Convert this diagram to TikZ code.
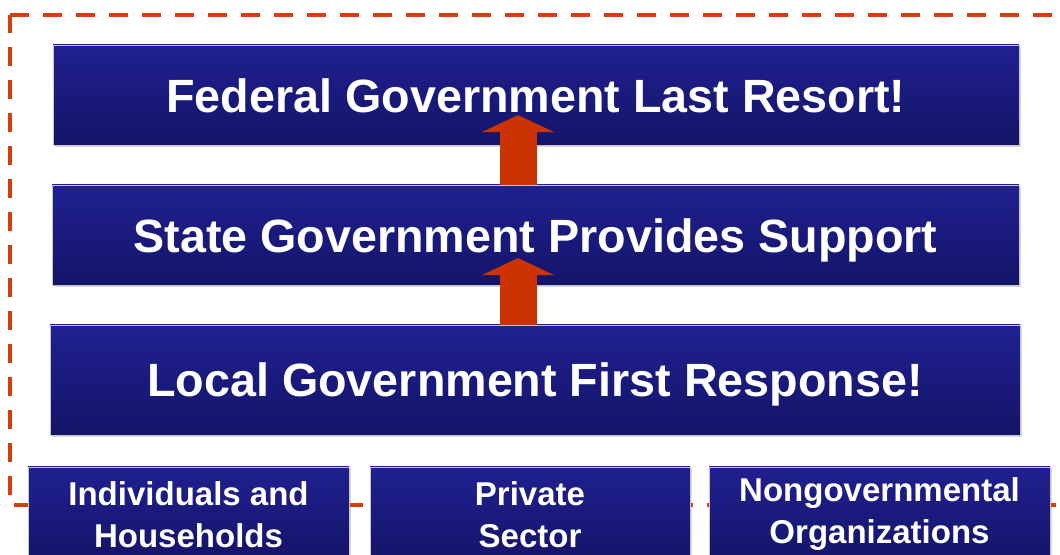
\documentclass[tikz,border=0pt]{standalone}
\usepackage{fontspec}
\setmainfont{Liberation Sans}
\usetikzlibrary{arrows.meta,shadows,calc}
\definecolor{tiertop}{RGB}{32,32,145}
\definecolor{tierbot}{RGB}{20,20,104}
\definecolor{arrowred}{RGB}{204,51,0}
\definecolor{dashred}{RGB}{214,62,12}

\begin{document}
\begin{tikzpicture}
      [x=0.75pt,y=-0.75pt,
       tier/.style={inner sep=0pt,top color=tiertop,bottom color=tierbot,draw=gray!45,very thin,
         drop shadow={shadow xshift=1.5pt,shadow yshift=-1.5pt,opacity=0.3},
         text=white,text depth=0pt,font=\fontsize{35}{40}\selectfont\bfseries},
       group/.style={tier,align=center,text depth=,font=\fontsize{24.75}{31.5}\selectfont\bfseries},
       uparrow/.style={arrowred,line width=27.75pt,-{Triangle[width=54pt,length=12.75pt]}}]

  \clip (0,0) rectangle (1060,555);

%dashed frame round the tiers
  \draw[dashred,line width=3.4pt,dash pattern=on 14.25pt off 10.5pt]
     (10,15) -- (1080,15) -- (1080,505) -- (10,505) -- cycle;

%the three tiers
  \node[tier,minimum width=724.5pt,minimum height=75pt] (federal) at (536,95) {\raisebox{-1.5pt}{Federal Government Last Resort!}};
  \node[tier,minimum width=725.25pt,minimum height=75pt] (state) at (535.5,235) {\raisebox{-1.5pt}{State Government Provides Support}};
  \node[tier,minimum width=727.5pt,minimum height=82.5pt] (local) at (535,380) {Local Government First Response!};

%partners below
  \node[group,minimum width=240.75pt,minimum height=71.25pt] (individuals) at (188.5,514.5) {Individuals and\\Households};
  \node[group,minimum width=240pt,minimum height=71.25pt] (private) at (530,514.5) {Private\\Sector};
  \node[group,minimum width=255.75pt,minimum height=71.25pt] (ngo) at (879.5,514.5) {Nongovernmental\\Organizations};

%support goes up
  \draw[uparrow] ($(state.north)+(-17.5,0)$) -- ($(federal.south)+(-18,-30)$);
  \draw[uparrow] ($(local.north)+(-17,0)$) -- ($(state.south)+(-17.5,-27)$);

\end{tikzpicture}
\end{document}
